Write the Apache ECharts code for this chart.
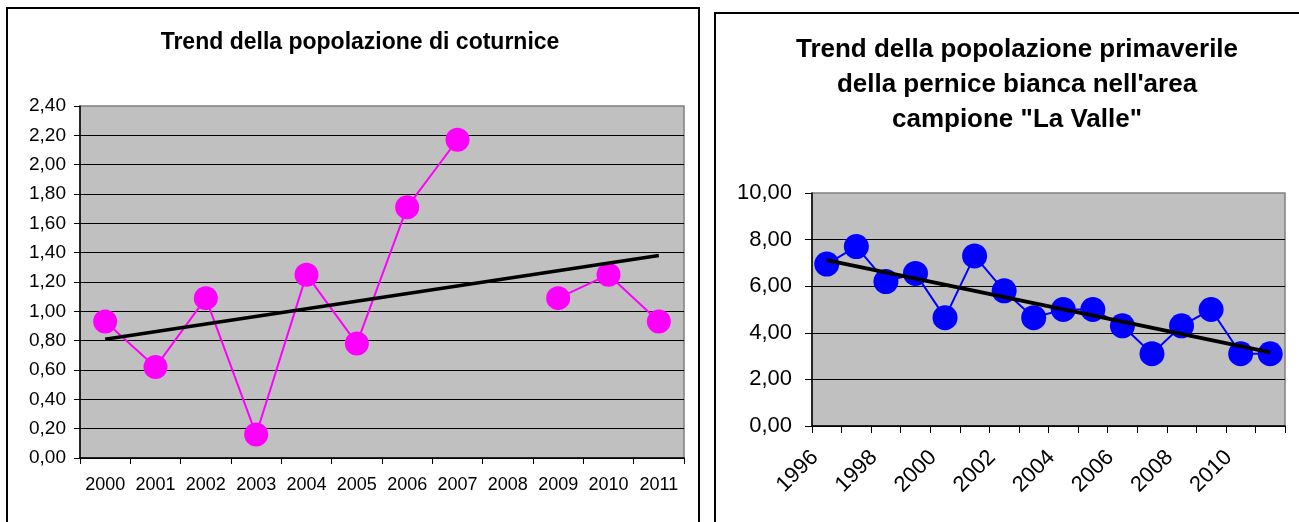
<!DOCTYPE html>
<html>
<head>
<meta charset="utf-8">
<script src="https://cdn.jsdelivr.net/npm/echarts@6/dist/echarts.min.js"></script>
<style>
html,body{margin:0;padding:0;background:#ffffff;}
#c{width:1299px;height:522px;}
</style>
</head>
<body>
<div id="c"></div>
<script>
// ---- Data ----
const leftTitle = 'Trend della popolazione di coturnice';
const leftYears = ['2000','2001','2002','2003','2004','2005','2006','2007','2008','2009','2010','2011'];
const leftValues = [0.93, 0.62, 1.09, 0.16, 1.25, 0.78, 1.71, 2.17, null, 1.09, 1.25, 0.93];
const leftTrendEnds = [0.81, 1.38];
const leftYTicks = ['0,00','0,20','0,40','0,60','0,80','1,00','1,20','1,40','1,60','1,80','2,00','2,20','2,40'];

const rightTitle = 'Trend della popolazione primaverile\ndella pernice bianca nell\'area\ncampione "La Valle"';
const rightYears = ['1996','1997','1998','1999','2000','2001','2002','2003','2004','2005','2006','2007','2008','2009','2010','2011'];
const rightValues = [6.95, 7.7, 6.2, 6.55, 4.65, 7.3, 5.8, 4.65, 5.0, 5.0, 4.3, 3.1, 4.3, 5.0, 3.1, 3.1];
const rightTrendEnds = [7.12, 3.16];
const rightYTicks = ['0,00','2,00','4,00','6,00','8,00','10,00'];

const FONT = '"Liberation Sans", Arial, Helvetica, sans-serif';

const chart = echarts.init(document.getElementById('c'), null, {renderer: 'canvas'});

const option = {
  backgroundColor: '#ffffff',
  animation: false,
  title: [
    {
      text: leftTitle, left: 355, top: 26, textAlign: 'center',
      textStyle: {fontFamily: FONT, fontWeight: 'bold', fontSize: 23, color: '#000', lineHeight: 23}
    },
    {
      text: rightTitle, left: 1012, top: 27, textAlign: 'center',
      textStyle: {fontFamily: FONT, fontWeight: 'bold', fontSize: 26, color: '#000', lineHeight: 35}
    }
  ],
  graphic: [
    {type: 'rect', shape: {x: 7, y: 8, width: 692, height: 540}, style: {fill: 'none', stroke: '#000', lineWidth: 2}, silent: true, z: -1},
    {type: 'rect', shape: {x: 715, y: 13, width: 620, height: 540}, style: {fill: 'none', stroke: '#000', lineWidth: 2}, silent: true, z: -1}
  ],
  grid: [
    {left: 80, top: 106, width: 604, height: 352, show: true, backgroundColor: '#C0C0C0', borderColor: '#808080', borderWidth: 1.5, containLabel: false},
    {left: 812, top: 193, width: 473, height: 233, show: true, backgroundColor: '#C0C0C0', borderColor: '#808080', borderWidth: 1.5, containLabel: false}
  ],
  xAxis: [
    {
      type: 'category', gridIndex: 0, data: leftYears, boundaryGap: true,
      axisLine: {show: true, lineStyle: {color: '#000', width: 1.5}},
      axisTick: {show: true, length: 6, alignWithLabel: false, lineStyle: {color: '#000'}},
      axisLabel: {interval: 0, margin: 18, fontFamily: FONT, fontSize: 18, color: '#000'},
      splitLine: {show: false}
    },
    {
      type: 'category', gridIndex: 1, data: rightYears, boundaryGap: true,
      axisLine: {show: true, lineStyle: {color: '#000', width: 1.5}},
      axisTick: {show: true, length: 7, interval: 0, alignWithLabel: false, lineStyle: {color: '#000'}},
      axisLabel: {interval: 1, rotate: 45, margin: 16, padding: [0, 17, 0, 0], fontFamily: FONT, fontSize: 22, color: '#000'},
      splitLine: {show: false}
    }
  ],
  yAxis: [
    {
      type: 'value', gridIndex: 0, min: 0, max: 2.4, interval: 0.2,
      axisLine: {show: true, lineStyle: {color: '#000', width: 1.5}},
      axisTick: {show: true, length: 6, lineStyle: {color: '#000'}},
      axisLabel: {margin: 14, fontFamily: FONT, fontSize: 19, color: '#000',
        formatter: function (v) { return leftYTicks[Math.round(v / 0.2)]; }},
      splitLine: {show: true, showMaxLine: false, lineStyle: {color: '#000', width: 1}}
    },
    {
      type: 'value', gridIndex: 1, min: 0, max: 10, interval: 2,
      axisLine: {show: true, lineStyle: {color: '#000', width: 1.5}},
      axisTick: {show: true, length: 7, lineStyle: {color: '#000'}},
      axisLabel: {margin: 20, fontFamily: FONT, fontSize: 22, color: '#000',
        formatter: function (v) { return rightYTicks[Math.round(v / 2)]; }},
      splitLine: {show: true, showMaxLine: false, lineStyle: {color: '#000', width: 1}}
    }
  ],
  series: [
    {
      name: 'Coturnice', type: 'line', xAxisIndex: 0, yAxisIndex: 0,
      data: leftValues, connectNulls: false,
      symbol: 'circle', symbolSize: 24, showAllSymbol: true,
      itemStyle: {color: '#FF00FF'},
      lineStyle: {color: '#FF00FF', width: 2},
      z: 2
    },
    {
      name: 'Trend coturnice', type: 'line', xAxisIndex: 0, yAxisIndex: 0,
      data: [[leftYears[0], leftTrendEnds[0]], [leftYears[leftYears.length - 1], leftTrendEnds[1]]],
      symbol: 'none', lineStyle: {color: '#000', width: 3.5},
      z: 3
    },
    {
      name: 'Pernice bianca', type: 'line', xAxisIndex: 1, yAxisIndex: 1,
      data: rightValues,
      symbol: 'circle', symbolSize: 25, showAllSymbol: true,
      itemStyle: {color: '#0000FF'},
      lineStyle: {color: '#0000FF', width: 2},
      z: 2
    },
    {
      name: 'Trend pernice', type: 'line', xAxisIndex: 1, yAxisIndex: 1,
      data: [[rightYears[0], rightTrendEnds[0]], [rightYears[rightYears.length - 1], rightTrendEnds[1]]],
      symbol: 'none', lineStyle: {color: '#000', width: 4},
      z: 3
    }
  ]
};
chart.setOption(option);
</script>
</body>
</html>
